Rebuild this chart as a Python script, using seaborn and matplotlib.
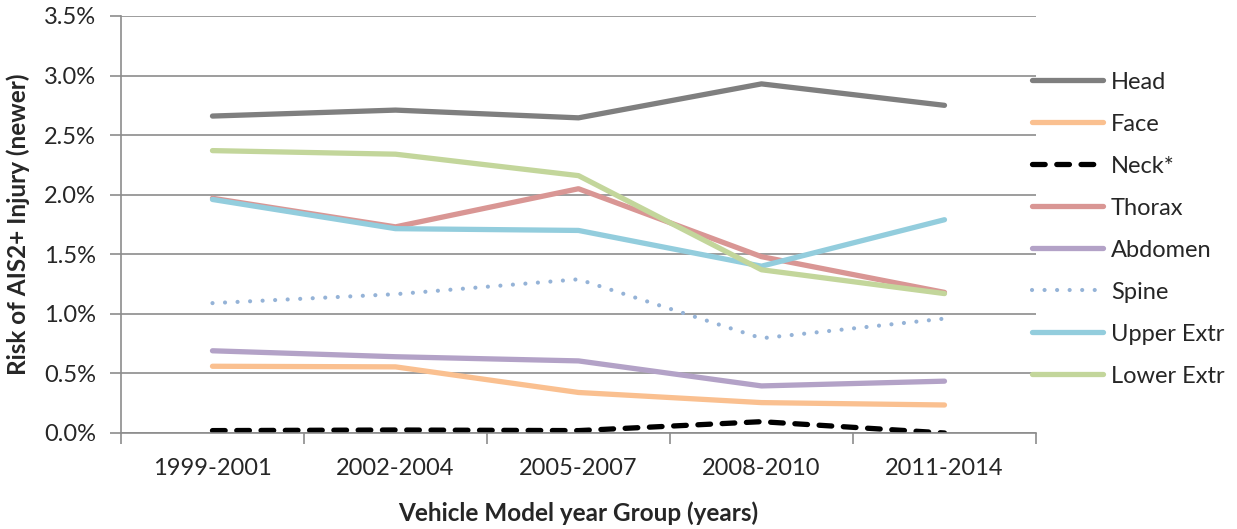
import numpy as np
import pandas as pd
from matplotlib import pyplot as plt
from matplotlib.ticker import FuncFormatter, FixedLocator
import seaborn as sns

groups = ["1999-2001", "2002-2004", "2005-2007", "2008-2010", "2011-2014"]
head = [2.66, 2.71, 2.645, 2.93, 2.75]
face = [0.56, 0.555, 0.34, 0.255, 0.235]
neck = [0.02, 0.025, 0.02, 0.095, 0.0]
thorax = [1.97, 1.73, 2.05, 1.48, 1.18]
abdomen = [0.69, 0.64, 0.605, 0.395, 0.435]
spine = [1.09, 1.165, 1.29, 0.795, 0.96]
upper_extr = [1.96, 1.715, 1.70, 1.40, 1.79]
lower_extr = [2.37, 2.34, 2.16, 1.37, 1.17]

regions = ["Head", "Face", "Neck*", "Thorax", "Abdomen", "Spine", "Upper Extr", "Lower Extr"]
series = [head, face, neck, thorax, abdomen, spine, upper_extr, lower_extr]
colors = ["#7f7f7f", "#fac090", "#000000", "#d99694", "#b3a2c7", "#95b3d7", "#93cddd", "#c3d69b"]

rows = []
for name, vals in zip(regions, series):
    for g, v in zip(groups, vals):
        rows.append({"group": g, "region": name, "risk": v})
df = pd.DataFrame(rows)

sns.set_style("white")
plt.rcParams['font.family'] = ['Lato', 'DejaVu Sans']

fig = plt.figure(figsize=(12.37, 5.29), dpi=100)
ax = fig.add_axes([0.0978, 0.1815, 0.7397, 0.7883])

dash_map = {r: "" for r in regions}
dash_map["Neck*"] = (2.4, 2.2)
dash_map["Spine"] = (0.01, 3.0)

sns.lineplot(data=df, x="group", y="risk", hue="region", style="region",
             palette=dict(zip(regions, colors)), dashes=dash_map,
             linewidth=3.8, legend=False, ax=ax, sort=False)

for line, name in zip(ax.lines, regions):
    line.set_solid_capstyle("round")
    line.set_dash_capstyle("round")
    line.set_label(name)
    if name == "Spine":
        line.set_linewidth(3.0)

ax.set_ylim(0, 3.5)
ax.set_xlim(-0.5, 4.5)
ax.set_yticks(np.arange(0, 3.51, 0.5))
ax.yaxis.set_major_formatter(FuncFormatter(lambda v, p: f"{v:.1f}%"))
ax.yaxis.grid(True, color="#8c8c8c", linewidth=1.2)
ax.set_axisbelow(True)

ax.xaxis.set_minor_locator(FixedLocator(np.arange(-0.5, 4.6, 1)))
ax.tick_params(axis="x", which="major", length=0, labelsize=17, pad=18)
ax.tick_params(axis="x", which="minor", length=8, width=1.2, color="#8c8c8c", direction="out", bottom=True)
ax.tick_params(axis="y", which="major", length=8, width=1.2, color="#8c8c8c", direction="out", left=True, labelsize=17, pad=10)

for s in ["top", "right"]:
    ax.spines[s].set_visible(False)
for s in ["left", "bottom"]:
    ax.spines[s].set_color("#8c8c8c")
    ax.spines[s].set_linewidth(1.2)

ax.set_xlabel("Vehicle Model year Group (years)", fontsize=17.5, fontweight="bold", labelpad=16)
ax.set_ylabel("Risk of AIS2+ Injury (newer)", fontsize=17.5, fontweight="bold", labelpad=10)

leg = fig.legend(handles=ax.lines, labels=regions, loc="upper left",
                 bbox_to_anchor=(0.817, 0.905), frameon=False, fontsize=17,
                 handlelength=3.0, labelspacing=0.89, handletextpad=0.35)

fig.savefig("out.png", dpi=100)
plt.close(fig)
